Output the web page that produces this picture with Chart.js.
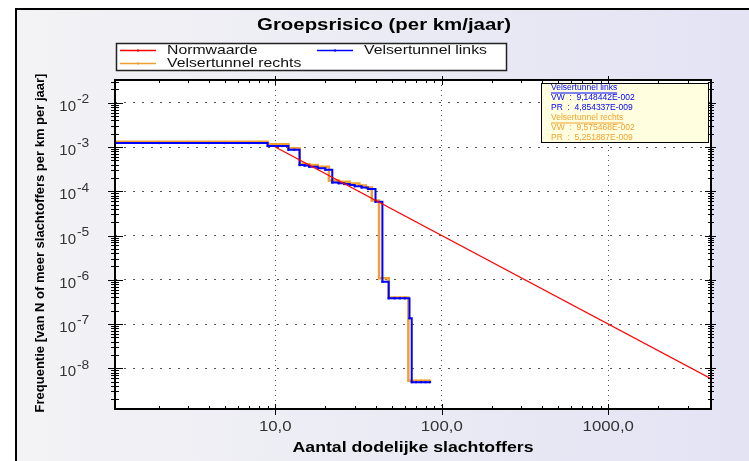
<!DOCTYPE html>
<html>
<head>
<meta charset="utf-8">
<script src="https://cdn.jsdelivr.net/npm/chart.js@4.4.0/dist/chart.umd.min.js"></script>
<style>
html, body { margin: 0; padding: 0; background: #fff; }
</style>
</head>
<body>
<canvas id="fnChart" width="749" height="461"></canvas>
<script>
// FN-curve data (N = number of fatalities, F = frequency per km per year)
const normN = [10, 4140];
const normF = [1e-3, 5.83e-9];

const linksN = [1, 2, 3, 4, 5, 6, 7, 8, 9, 10, 11, 12, 13, 14, 15, 16, 18, 20, 22, 24, 26, 28, 30, 33, 36, 40, 44, 48, 52, 56, 60, 64, 66, 70, 75, 80, 85];
const linksF = [1.23e-3, 1.23e-3, 1.23e-3, 1.23e-3, 1.23e-3, 1.23e-3, 1.23e-3, 1.23e-3,
    1.05e-3, 1.05e-3, 1.05e-3, 8.7e-4, 8.7e-4, 3.9e-4, 3.8e-4, 3.6e-4,
    3.3e-4, 3.05e-4, 1.58e-4, 1.52e-4, 1.45e-4, 1.38e-4, 1.3e-4, 1.22e-4, 1.12e-4, 5.8e-5,
    9.0e-7, 3.8e-7, 3.8e-7, 3.8e-7, 3.8e-7, 1.35e-7, 4.85e-9, 4.85e-9, 4.85e-9, 4.85e-9, 4.85e-9];

const rechtsN = [1, 2, 3, 4, 5, 6, 7, 8, 9, 10, 11, 12, 13, 14, 15, 16, 18, 21, 24, 28, 32, 35, 38, 42, 48, 52, 56, 60, 63, 66, 70, 75, 80, 85];
const rechtsF = [1.31e-3, 1.31e-3, 1.31e-3, 1.31e-3, 1.31e-3, 1.31e-3, 1.31e-3, 1.31e-3,
    1.15e-3, 1.15e-3, 1.15e-3, 9.4e-4, 9.4e-4, 4.2e-4, 4.1e-4, 3.9e-4,
    3.6e-4, 1.75e-4, 1.65e-4, 1.5e-4, 1.35e-4, 1.22e-4, 6.2e-5,
    1.08e-6, 3.95e-7, 3.95e-7, 3.95e-7, 3.95e-7, 5.25e-9, 5.25e-9, 5.25e-9, 5.25e-9, 5.25e-9, 5.25e-9];

const seriesNames = ['Normwaarde', 'Velsertunnel links', 'Velsertunnel rechts'];
const seriesColors = ['#ff0000', '#0000ff', '#f0a030'];

const xTickValues = [10, 100, 1000];
const xTickLabels = ['10,0', '100,0', '1000,0'];
const yTickExps = [-2, -3, -4, -5, -6, -7, -8];

const statsLinks = ['Velsertunnel links', 'VW  :  9,148442E-002', 'PR  :  4,854337E-009'];
const statsRechts = ['Velsertunnel rechts', 'VW  :  9,575468E-002', 'PR  :  5,251887E-009'];

const FONT = '"Liberation Sans", Arial, sans-serif';

const toPoints = (xs, ys) => xs.map((x, i) => ({ x: x, y: ys[i] }));

function isDecade(v) {
    const l = Math.log10(v);
    return Math.abs(l - Math.round(l)) < 1e-6;
}
function isNice(v) {
    const e = Math.floor(Math.log10(v) + 1e-9);
    const s = v / Math.pow(10, e);
    return Math.abs(s - Math.round(s)) < 1e-6;
}

function txt(c, s, x, y, font, color, align, sx) {
    c.save();
    c.font = font;
    c.fillStyle = color;
    c.textAlign = align || 'center';
    c.textBaseline = 'middle';
    c.translate(x, y);
    c.scale(sx || 1, 1);
    c.fillText(s, 0, 0);
    c.restore();
}

function line(c, x1, y1, x2, y2) {
    c.beginPath();
    c.moveTo(x1, y1);
    c.lineTo(x2, y2);
    c.stroke();
}

const decor = {
    id: 'decor',
    beforeDraw(chart) {
        const c = chart.ctx, a = chart.chartArea;
        c.save();
        c.fillStyle = '#fff';
        c.fillRect(0, 0, chart.width, chart.height);
        const g = c.createLinearGradient(15, 0, chart.width, 0);
        g.addColorStop(0, '#f3f3f5');
        g.addColorStop(1, '#e3e3f4');
        c.fillStyle = g;
        c.fillRect(15, 8, chart.width - 15, chart.height - 8);
        c.strokeStyle = '#000';
        c.lineWidth = 2;
        c.beginPath();
        c.moveTo(16, chart.height);
        c.lineTo(16, 9);
        c.lineTo(chart.width, 9);
        c.stroke();
        c.fillStyle = '#fff';
        c.fillRect(a.left, a.top, a.right - a.left, a.bottom - a.top);
        c.restore();
    },
    afterDraw(chart) {
        const c = chart.ctx, a = chart.chartArea;
        const xs = chart.scales.x, ys = chart.scales.y;
        c.save();

        // axis frame
        c.strokeStyle = '#000';
        c.lineWidth = 2;
        c.strokeRect(a.left, a.top, a.right - a.left, a.bottom - a.top);

        // tick marks on all four sides
        c.lineWidth = 1;
        xs.ticks.forEach(t => {
            if (!isNice(t.value)) return;
            const px = Math.round(xs.getPixelForValue(t.value)) + 0.5;
            if (px < a.left + 2 || px > a.right - 2) return;
            const maj = isDecade(t.value);
            line(c, px, a.bottom - (maj ? 5 : 3), px, a.bottom + (maj ? 6 : 0));
            line(c, px, a.top + (maj ? 5 : 3), px, a.top - (maj ? 4 : 0));
        });
        ys.ticks.forEach(t => {
            if (!isNice(t.value)) return;
            const py = Math.round(ys.getPixelForValue(t.value)) + 0.5;
            if (py < a.top + 2 || py > a.bottom - 2) return;
            const maj = isDecade(t.value);
            line(c, a.left - (maj ? 7 : 4), py, a.left + (maj ? 8 : 4), py);
            line(c, a.right - (maj ? 6 : 3), py, a.right + (maj ? 5 : 3), py);
        });

        // tick labels
        xTickValues.forEach((v, i) => {
            txt(c, xTickLabels[i], xs.getPixelForValue(v), 427, '14px ' + FONT, '#333', 'center', 1.2);
        });
        yTickExps.forEach(e => {
            const py = ys.getPixelForValue(Math.pow(10, e));
            txt(c, '10', 76, py + 4, '15px ' + FONT, '#333', 'right', 1.0);
            txt(c, '-' + Math.abs(e), 77, py - 3, '12px ' + FONT, '#333', 'left', 1.15);
        });

        // titles
        txt(c, 'Groepsrisico (per km/jaar)', 384, 25, 'bold 17px ' + FONT, '#000', 'center', 1.2);
        txt(c, 'Aantal dodelijke slachtoffers', (a.left + a.right) / 2, 448, 'bold 15px ' + FONT, '#000', 'center', 1.18);
        c.save();
        c.translate(40, 243);
        c.rotate(-Math.PI / 2);
        txt(c, 'Frequentie [van N of meer slachtoffers per km per jaar]', 0, 0, 'bold 13px ' + FONT, '#000', 'center', 1);
        c.restore();

        // legend box
        c.fillStyle = '#fff';
        c.fillRect(116, 43, 391, 28);
        c.strokeStyle = '#222';
        c.lineWidth = 1.5;
        c.strokeRect(116.5, 43.5, 390, 27);
        const legendPos = [[120, 50.5], [317, 50.5], [120, 63.5]];
        seriesNames.forEach((name, i) => {
            const [lx, ly] = legendPos[i];
            c.strokeStyle = seriesColors[i];
            c.lineWidth = 1.5;
            line(c, lx, ly, lx + 36, ly);
            c.fillStyle = seriesColors[i];
            c.fillRect(lx + 17, ly - 1, 2, 2);
            txt(c, name, lx + 47, ly, '13.5px ' + FONT, '#111', 'left', 1.17);
        });

        // statistics box
        c.fillStyle = '#ffffe0';
        c.fillRect(541, 83, 168, 60);
        c.strokeStyle = '#000';
        c.lineWidth = 1;
        c.strokeRect(541.5, 83.5, 167, 59);
        const statLines = [[statsLinks, seriesColors[1], 88], [statsRechts, seriesColors[2], 118]];
        statLines.forEach(([lines, col, y0]) => {
            lines.forEach((s, j) => {
                const y = y0 + j * 10;
                txt(c, s, 551, y, '8.5px ' + FONT, col, 'left', 1);
                if (j === 0) {
                    c.font = '8.5px ' + FONT;
                    const w = c.measureText(s).width;
                    c.strokeStyle = col;
                    c.lineWidth = 1;
                    line(c, 551, y + 5, 551 + w, y + 5);
                }
            });
        });
        c.restore();
    }
};

const gridColor = ctx => (ctx.tick && isDecade(ctx.tick.value)) ? '#555' : 'rgba(0,0,0,0)';

new Chart(document.getElementById('fnChart'), {
    type: 'line',
    data: {
        datasets: [
            {
                label: seriesNames[0],
                data: toPoints(normN, normF),
                borderColor: seriesColors[0],
                backgroundColor: seriesColors[0],
                borderWidth: 1.3,
                pointRadius: 0,
                order: 0
            },
            {
                label: seriesNames[1],
                data: toPoints(linksN, linksF),
                borderColor: seriesColors[1],
                backgroundColor: seriesColors[1],
                borderWidth: 2,
                stepped: true,
                pointStyle: 'rect',
                pointRadius: 1.5,
                pointBorderWidth: 0,
                order: 1
            },
            {
                label: seriesNames[2],
                data: toPoints(rechtsN, rechtsF),
                borderColor: seriesColors[2],
                backgroundColor: seriesColors[2],
                borderWidth: 2.5,
                stepped: true,
                pointStyle: 'rect',
                pointRadius: 1.5,
                pointBorderWidth: 0,
                order: 2
            }
        ]
    },
    options: {
        responsive: false,
        animation: false,
        layout: { padding: { left: 115, right: 38, top: 80, bottom: 52 } },
        scales: {
            x: {
                type: 'logarithmic',
                min: 1.09,
                max: 4140,
                ticks: { display: false },
                grid: { color: gridColor, lineWidth: 1, drawTicks: false },
                border: { display: false, dash: [1, 4] }
            },
            y: {
                type: 'logarithmic',
                min: 1.2e-9,
                max: 0.0327,
                ticks: { display: false },
                grid: { color: gridColor, lineWidth: 1, drawTicks: false },
                border: { display: false, dash: [2, 7] }
            }
        },
        plugins: {
            legend: { display: false },
            tooltip: { enabled: false }
        }
    },
    plugins: [decor]
});
</script>
</body>
</html>
